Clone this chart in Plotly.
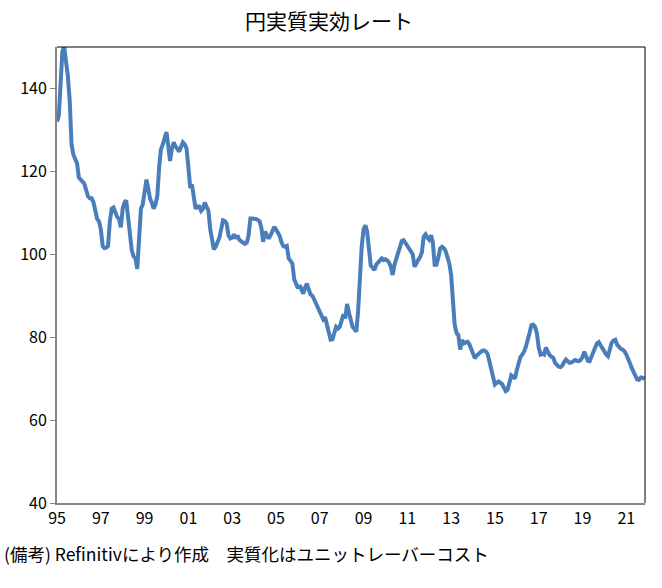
import pandas as pd
import plotly.graph_objects as go

title_text = "円実質実効レート"
note_text = "(備考) Refinitivにより作成　実質化はユニットレーバーコスト"

start_month = "1995-01-01"
# Monthly values, one row per year (1995 .. Nov 2021)
reer_values = [
    132.0, 133.5, 141.0, 149.0, 150.0, 147.0, 143.0, 137.0, 126.5, 124.0, 123.0, 122.0,   # 1995
    118.5, 118.0, 117.5, 117.0, 115.5, 114.0, 113.5, 113.5, 112.5, 110.0, 108.5, 108.0,   # 1996
    106.0, 102.0, 101.5, 101.6, 102.0, 108.0, 111.0, 111.3, 110.0, 109.0, 108.5, 106.5,   # 1997
    111.0, 112.5, 113.0, 109.0, 104.0, 101.0, 99.5, 99.0, 96.5, 104.0, 111.0, 112.0,      # 1998
    115.0, 118.0, 116.0, 113.5, 112.5, 111.0, 112.0, 114.0, 121.0, 125.3, 126.5, 128.5,   # 1999
    129.5, 126.0, 122.5, 125.5, 127.0, 126.0, 125.5, 124.8, 126.0, 127.0, 126.5, 125.5,   # 2000
    121.0, 116.0, 116.8, 113.0, 111.0, 111.5, 111.5, 110.5, 111.0, 112.5, 111.5, 110.5,   # 2001
    106.0, 102.5, 101.2, 101.8, 102.8, 104.0, 106.0, 108.2, 108.0, 107.4, 104.5, 103.8,   # 2002
    104.0, 104.8, 103.8, 104.5, 103.5, 103.0, 102.8, 102.5, 102.8, 104.5, 108.6, 108.6,   # 2003
    108.6, 108.5, 108.3, 108.0, 106.5, 103.0, 105.5, 104.5, 103.8, 104.5, 105.5, 106.6,   # 2004
    106.0, 105.4, 104.5, 103.0, 102.0, 101.8, 102.0, 99.0, 98.3, 97.8, 94.0, 92.5,        # 2005
    91.8, 92.5, 91.5, 90.5, 92.0, 92.9, 91.5, 90.3, 90.0, 89.0, 88.0, 87.5,               # 2006
    86.5, 85.0, 84.3, 84.8, 82.8, 81.0, 79.4, 79.5, 81.5, 82.5, 82.1, 82.5,               # 2007
    84.0, 85.5, 84.5, 88.0, 86.0, 84.5, 82.5, 82.0, 81.3, 86.0, 95.0, 101.8,              # 2008
    106.0, 107.0, 105.5, 100.5, 97.3, 96.8, 96.2, 97.5, 98.0, 98.8, 99.0, 98.6,           # 2009
    98.8, 98.5, 98.0, 97.0, 95.0, 97.5, 99.0, 100.2, 101.8, 103.2, 103.4, 102.8,          # 2010
    102.0, 101.3, 100.8, 100.0, 97.0, 98.0, 98.6, 99.3, 100.5, 104.2, 104.8, 104.0,       # 2011
    103.5, 104.6, 103.0, 97.5, 97.5, 99.2, 101.4, 101.8, 101.5, 100.8, 99.5, 97.8,        # 2012
    95.0, 88.5, 83.0, 81.0, 80.5, 77.0, 79.3, 78.5, 78.7, 78.9, 78.3, 77.0,               # 2013
    75.8, 74.9, 75.5, 76.1, 76.3, 76.7, 76.8, 76.6, 76.0, 74.2, 72.0, 70.5,               # 2014
    68.6, 69.0, 69.3, 69.0, 68.7, 67.8, 67.0, 67.3, 69.0, 70.8, 70.4, 70.0,               # 2015
    72.0, 74.0, 75.2, 75.8, 76.5, 77.7, 79.0, 81.0, 82.9, 83.0, 82.5, 81.0,               # 2016
    77.5, 75.8, 76.0, 75.8, 77.5, 76.5, 75.7, 75.3, 75.0, 73.8, 73.2, 72.9,               # 2017
    72.8, 73.2, 74.0, 74.6, 74.2, 73.8, 73.9, 74.3, 74.5, 74.3, 74.2, 74.5,               # 2018
    75.2, 76.5, 75.5, 74.3, 74.2, 75.5, 76.5, 77.5, 78.5, 78.8, 78.0, 77.2,               # 2019
    76.5, 75.8, 75.4, 77.0, 78.6, 79.2, 79.4, 78.2, 77.5, 77.2, 77.0, 76.6,               # 2020
    75.8, 75.0, 73.8, 72.6, 71.5, 70.4, 69.8, 69.7, 70.3, 70.2, 69.9,                     # 2021
]

tick_years = [1995, 1997, 1999, 2001, 2003, 2005, 2007, 2009, 2011, 2013, 2015, 2017, 2019, 2021]
tick_labels = ["95", "97", "99", "01", "03", "05", "07", "09", "11", "13", "15", "17", "19", "21"]

dates = pd.date_range(start_month, periods=len(reer_values), freq="MS")
tick_vals = [pd.Timestamp(f"{y}-01-01") for y in tick_years]

FONT = "Noto Sans CJK JP"

fig = go.Figure()
fig.add_trace(go.Scatter(
    x=dates, y=reer_values, mode="lines",
    line=dict(color="#4A7EBB", width=4),
    hoverinfo="x+y", showlegend=False,
))

fig.update_layout(
    width=662, height=588,
    margin=dict(l=57, r=17, t=47, b=85),
    paper_bgcolor="white", plot_bgcolor="white",
    font=dict(family=FONT, size=14, color="#000000"),
    title=dict(text=title_text, x=0.497, xanchor="center", y=0.963, yanchor="middle",
               font=dict(family=FONT, size=21, color="#000000")),
    xaxis=dict(
        type="date",
        range=[dates[0], dates[-1] + pd.Timedelta(days=8)],
        tickvals=tick_vals, ticktext=tick_labels,
        showgrid=False, zeroline=False,
        showline=True, linecolor="#868686", linewidth=2,
        ticks="", tickfont=dict(family=FONT, size=16, color="#000000"),
    ),
    yaxis=dict(
        range=[40, 150], tick0=40, dtick=20,
        showgrid=False, zeroline=False,
        showline=True, linecolor="#868686", linewidth=2,
        ticks="outside", ticklen=5, tickwidth=1, tickcolor="#868686",
        tickfont=dict(family=FONT, size=16, color="#000000"),
    ),
    shapes=[
        dict(type="line", xref="paper", yref="paper", x0=0, x1=1, y0=1, y1=1,
             line=dict(color="#000000", width=1), layer="above"),
        dict(type="line", xref="paper", yref="paper", x0=1, x1=1, y0=0, y1=1,
             line=dict(color="#000000", width=1), layer="above"),
    ],
    annotations=[
        dict(text=note_text, xref="paper", yref="paper", x=-0.093, y=-0.11,
             xanchor="left", yanchor="middle", showarrow=False,
             font=dict(family=FONT, size=17.5, color="#000000")),
    ],
)

fig.write_html("out.html", config={"displayModeBar": False},
               post_script="document.body.style.margin='0';")
